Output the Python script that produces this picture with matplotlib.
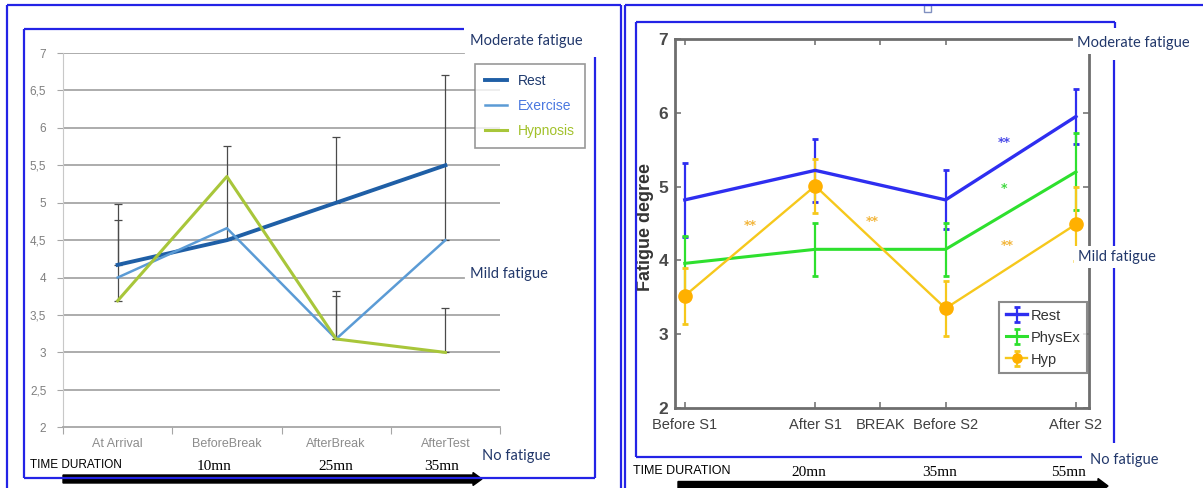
import numpy as np
import matplotlib
matplotlib.use("Agg")
import matplotlib.pyplot as plt
import matplotlib.patches as mpatches
from matplotlib.lines import Line2D

# ---- data: left chart (Excel style) ----
left_categories = ["At Arrival", "BeforeBreak", "AfterBreak", "AfterTest"]
left_times = ["10mn", "25mn", "35mn"]
rest_left = [4.17, 4.50, 5.00, 5.50]
exercise_left = [4.00, 4.66, 3.18, 4.50]
hypnosis_left = [3.69, 5.35, 3.18, 3.00]
rest_left_err = [0.60, 1.26, 0.88, 0.00]
exercise_left_err = [0.00, 0.00, 0.64, 2.21]
hypnosis_left_err = [1.29, 0.00, 0.58, 0.60]

# ---- data: right chart (MATLAB style) ----
right_ticks = [1, 3, 4, 5, 7]
right_tick_labels = ["Before S1", "After S1", "BREAK", "Before S2", "After S2"]
right_x = [1, 3, 5, 7]
right_times = ["20mn", "35mn", "55mn"]
rest_right = [4.82, 5.22, 4.82, 5.95]
rest_right_err = [0.50, 0.43, 0.40, 0.37]
physex_right = [3.96, 4.15, 4.15, 5.20]
physex_right_err = [0.37, 0.36, 0.36, 0.52]
hyp_right = [3.52, 5.01, 3.35, 4.49]
hyp_right_err = [0.38, 0.37, 0.37, 0.50]
# significance marks: (x, y, text, color)
stars = [(5.9, 5.60, "**", "#4a4ae8"), (5.9, 4.97, "*", "#3fd83f"),
         (2.0, 4.47, "**", "#f2b53a"), (3.88, 4.53, "**", "#f2b53a"),
         (5.94, 4.20, "**", "#f2b53a")]

W, H = 1203, 488
fig = plt.figure(figsize=(W / 100, H / 100), dpi=100)
fig.patch.set_facecolor("white")


def box(x0, y0, x1, y1):
    # pixel box (top-left origin) -> figure fraction rect
    return [x0 / W, 1 - y1 / H, (x1 - x0) / W, (y1 - y0) / H]


def seg(x0, y0, x1, y1, color="#2323e6", lw=1.6):
    fig.add_artist(Line2D([x0 / 100, x1 / 100], [(H - y0) / 100, (H - y1) / 100],
                          transform=fig.dpi_scale_trans, color=color, lw=lw,
                          solid_capstyle="butt"))


def ptext(x, y, s, **kw):
    fig.text(x / W, 1 - y / H, s, **kw)


navy = "#22386b"
sans = ["Liberation Sans", "DejaVu Sans"]

# ================= LEFT CHART =================
ax1 = fig.add_axes(box(63, 53, 500, 427.3))
xl = np.arange(len(left_categories)) + 0.5
ax1.set_xlim(0, 4)
ax1.set_ylim(2, 7)
yt = np.arange(2, 7.01, 0.5)
for v in yt[1:]:
    xmax = 0.918 if v in (7.0, 4.0) else 1.0
    ax1.axhline(v, xmin=0, xmax=xmax, color="#a6a6a6", lw=1.3, zorder=0)
ax1.set_yticks(yt)
ax1.set_yticklabels([("%g" % v).replace(".", ",") for v in yt],
                    color="#7f7f7f", fontsize=8.5, family=sans)
ax1.set_xticks(np.arange(5))
ax1.set_xticklabels([])
ax1.set_xticks(xl, minor=True)
ax1.set_xticklabels(left_categories, minor=True, color="#8c8c8c", fontsize=9, family=sans)
ax1.tick_params(axis="x", which="minor", length=0, pad=8)
ax1.tick_params(axis="x", which="major", length=5, color="#a6a6a6", direction="out")
ax1.tick_params(axis="y", length=4, color="#a6a6a6", pad=8)
for s in ["top", "right"]:
    ax1.spines[s].set_visible(False)
ax1.spines["bottom"].set_color("#a6a6a6")
ax1.spines["left"].set_color("#c8c8c8")
ax1.spines["bottom"].set_linewidth(1.3)

series_left = [("Rest", rest_left, rest_left_err, "#1f5fa6", 2.8, "#1f3a6e"),
               ("Exercise", exercise_left, exercise_left_err, "#5b9bd5", 1.8, "#4a78e0"),
               ("Hypnosis", hypnosis_left, hypnosis_left_err, "#a8c63a", 2.2, "#a2c12a")]
for name, vals, err, col, lw, tcol in series_left:
    vals = np.array(vals)
    err = np.array(err)
    m = err > 0
    ax1.errorbar(xl[m], vals[m], yerr=[np.zeros(m.sum()), err[m]], fmt="none",
                 ecolor="#4a4a4a", elinewidth=0.9, capsize=3, capthick=0.9, zorder=1)
for name, vals, err, col, lw, tcol in series_left:
    ax1.plot(xl, vals, color=col, lw=lw, label=name, zorder=2)

leg1 = ax1.legend(loc="upper left", bbox_to_anchor=box(475, 62, 581, 152)[:2] + [0.09, 0.18],
                  bbox_transform=fig.transFigure, frameon=True, fancybox=False,
                  fontsize=10, handlelength=1.6, borderpad=0.7, labelspacing=0.8,
                  handletextpad=0.8, borderaxespad=0)
leg1.get_frame().set_edgecolor("#7f7f7f")
leg1.get_frame().set_linewidth(1.2)
for t, s in zip(leg1.get_texts(), series_left):
    t.set_color(s[5])
    t.set_family(sans)

# left decoration
seg(7, 5, 621, 5)
seg(7, 5, 7, 492)
seg(621, 5, 621, 492)
seg(24, 29, 464, 29)
seg(24, 29, 24, 478)
seg(24, 478, 595, 478)
seg(595, 57, 595, 478)
lato = ["Lato", "DejaVu Sans"]
ptext(470, 41, "Moderate fatigue", color=navy, fontsize=10.5, family=lato, va="center")
ptext(470, 274, "Mild fatigue", color=navy, fontsize=10.5, family=lato, va="center")
ptext(482, 456, "No fatigue", color=navy, fontsize=10.5, family=lato, va="center")
ptext(30, 465, "TIME DURATION", color="black", fontsize=8.5, family=sans, va="center")
for xp, t in zip([214, 336, 442], left_times):
    ptext(xp, 466, t, color="black", fontsize=11, family="Liberation Serif",
          ha="center", va="center")
fig.add_artist(mpatches.FancyArrow(63 / 100, (H - 479) / 100, (482 - 63) / 100, 0,
                                   width=0.08, head_width=0.13, head_length=0.09,
                                   length_includes_head=True, color="black",
                                   transform=fig.dpi_scale_trans))

# ================= RIGHT CHART =================
ax2 = fig.add_axes(box(675, 39, 1089, 408))
ax2.set_xlim(0.85, 7.2)
ax2.set_ylim(2, 7)
series_right = [("Rest", rest_right, rest_right_err, "#2e2ef0", 2.4, "none"),
                ("PhysEx", physex_right, physex_right_err, "#2ee02e", 2.2, "none"),
                ("Hyp", hyp_right, hyp_right_err, "#f6c81c", 1.7, "o")]
for name, vals, err, col, lw, mk in series_right:
    ax2.errorbar(right_x, vals, yerr=err, color=col, lw=lw, elinewidth=1.6,
                 capsize=2.5, capthick=2, marker=mk, markersize=9.5,
                 markerfacecolor="#ffb000", markeredgecolor="#ffb000", label=name)
for x, y, s, c in stars:
    ax2.text(x, y, s, color=c, fontsize=9, fontweight="bold", ha="center", va="center")
ax2.set_xticks(right_ticks)
ax2.set_xticklabels(right_tick_labels, fontsize=10.5, color="#404040", family=sans)
ax2.set_yticks(np.arange(2, 8))
ax2.set_yticklabels([str(v) for v in range(2, 8)], fontsize=12.5, fontweight="bold",
                    color="#4a4a4a", family=sans)
ax2.tick_params(direction="in", top=True, right=True, length=4, color="#777777",
                width=1.2)
ax2.tick_params(axis="x", pad=7)
ax2.tick_params(axis="y", pad=5)
for s in ax2.spines.values():
    s.set_color("#6e6e6e")
    s.set_linewidth(2)
ax2.set_ylabel("Fatigue degree", fontsize=13, fontweight="bold", color="#333333",
               family=sans)
ax2.yaxis.set_label_coords(-0.05, 0.49)
leg2 = ax2.legend(loc="upper left", bbox_to_anchor=box(999, 302, 1082, 381)[:2] + [0.069, 0.162],
                  bbox_transform=fig.transFigure, frameon=True, fancybox=False,
                  fontsize=10.5, handlelength=1.5, borderpad=0.45, labelspacing=0.55,
                  handletextpad=0.2, borderaxespad=0, markerscale=0.7)
leg2.get_frame().set_edgecolor("#6e6e6e")
leg2.get_frame().set_linewidth(1.5)
for t in leg2.get_texts():
    t.set_color("#333333")
    t.set_family(sans)

# right decoration
seg(625, 5, 1210, 5)
seg(625, 5, 625, 492)
seg(636, 22, 1115, 22)
seg(1115, 22, 1115, 28)
seg(636, 22, 636, 457)
seg(636, 457, 1082, 457)
seg(1114, 60, 1114, 443)
fig.add_artist(mpatches.Rectangle((924 / 100, (H - 12) / 100), 0.07, 0.07,
                                  transform=fig.dpi_scale_trans, facecolor="white",
                                  edgecolor="#8090c0", lw=1))
wb = dict(facecolor="white", edgecolor="none", pad=3)
ptext(1077, 43, "Moderate fatigue", color=navy, fontsize=10.5, family=lato,
      va="center", bbox=wb)
ptext(1078, 257, "Mild fatigue", color=navy, fontsize=10.5, family=lato,
      va="center", bbox=wb)
ptext(1090, 460, "No fatigue", color=navy, fontsize=10.5, family=lato, va="center")
ptext(633, 471, "TIME DURATION", color="black", fontsize=9, family=sans, va="center")
for xp, t in zip([809, 940, 1068], right_times):
    ptext(xp, 473, t, color="black", fontsize=11, family="Liberation Serif",
          ha="center", va="center")
fig.add_artist(mpatches.FancyArrow(678 / 100, (H - 486) / 100, (1108 - 678) / 100, 0,
                                   width=0.09, head_width=0.15, head_length=0.1,
                                   length_includes_head=True, color="black",
                                   transform=fig.dpi_scale_trans))

fig.savefig("out.png", dpi=100)
